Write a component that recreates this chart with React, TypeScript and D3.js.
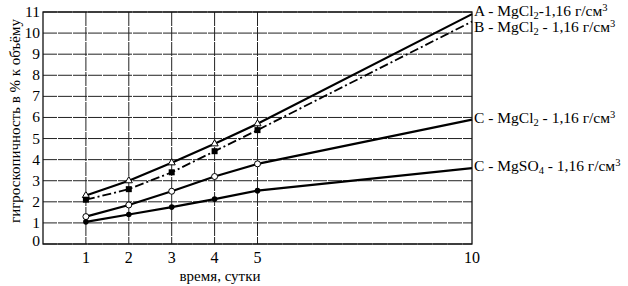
import React from "react";
import * as d3 from "d3";

const days = [1, 2, 3, 4, 5, 10];
const seriesA = [2.3, 3.0, 3.85, 4.75, 5.7, 10.9];
const seriesB = [2.1, 2.6, 3.4, 4.4, 5.4, 10.55];
const seriesC = [1.3, 1.85, 2.5, 3.2, 3.8, 5.9];
const seriesD = [1.05, 1.4, 1.75, 2.13, 2.53, 3.6];
const xTicks = [1, 2, 3, 4, 5, 10];
const yTicks = [0, 1, 2, 3, 4, 5, 6, 7, 8, 9, 10, 11];
const vGrid = [1, 2, 3, 4, 5];

const W = 628;
const H = 286;
const x = d3.scaleLinear().domain([0, 10]).range([43, 472]);
const y = d3.scaleLinear().domain([0, 11]).range([244, 12]);

const FONT = "Liberation Serif, Times New Roman, DejaVu Serif, serif";
const fs = (size: number) => ({ fontFamily: FONT, fontSize: size + "px" });

function line(vals: number[]) {
  return d3
    .line<number>()
    .x((_, i) => x(days[i]))
    .y((v) => y(v))(vals) as string;
}

function Label({ yy, name, chem, sub, sep }: { yy: number; name: string; chem: string; sub: string; sep: string }) {
  return (
    <text x={474} y={yy + 5} style={fs(15.5)} fill="#000">
      {name} - {chem}
      <tspan dy={3} style={fs(10.5)}>{sub}</tspan>
      <tspan dy={-3}>{sep}1,16 г/см</tspan>
      <tspan dy={-5} style={fs(10.5)}>3</tspan>
    </text>
  );
}

export default function App() {
  return (
    <svg width={W} height={H} style={{ position: "absolute", left: 0, top: 0, background: "#fff" }}>
      <rect width={W} height={H} fill="#fff" />
      {yTicks.map((t) => (
        <line key={"h" + t} x1={x(0)} x2={x(10)} y1={y(t)} y2={y(t)} stroke="#222" strokeWidth={1} strokeDasharray="14,1" />
      ))}
      {vGrid.map((t) => (
        <line key={"v" + t} x1={x(t)} x2={x(t)} y1={y(11)} y2={y(0)} stroke="#222" strokeWidth={1} strokeDasharray="14,1" />
      ))}
      <rect x={x(0)} y={y(11)} width={x(10) - x(0)} height={y(0) - y(11)} fill="none" stroke="#111" strokeWidth={1.3} />
      {yTicks.map((t) => (
        <text key={"yl" + t} x={40} y={(t === 0 ? y(t) - 3 : y(t)) + 5} textAnchor="end" style={fs(15.5)}>
          {t}
        </text>
      ))}
      {xTicks.map((t) => (
        <text key={"xl" + t} x={x(t)} y={263} textAnchor="middle" style={fs(16)}>
          {t}
        </text>
      ))}
      <text x={220} y={281} textAnchor="middle" style={fs(15)}>
        время, сутки
      </text>
      <text transform={`translate(20,${121}) rotate(-90)`} textAnchor="middle" style={fs(15)}>
        гигроскопичность в % к объёму
      </text>

      <path d={line(seriesA)} fill="none" stroke="#000" strokeWidth={2.2} />
      <path d={line(seriesB)} fill="none" stroke="#000" strokeWidth={1.8} strokeDasharray="9,3,2,3" />
      <path d={line(seriesC)} fill="none" stroke="#000" strokeWidth={2.2} />
      <path d={line(seriesD)} fill="none" stroke="#000" strokeWidth={2.2} />

      {seriesA.slice(0, 5).map((v, i) => (
        <path key={"ma" + i} d={d3.symbol(d3.symbolTriangle, 22)() as string} transform={`translate(${x(days[i])},${y(v)})`} fill="#fff" stroke="#000" strokeWidth={1} />
      ))}
      {seriesB.slice(0, 5).map((v, i) => (
        <rect key={"mb" + i} x={x(days[i]) - 3} y={y(v) - 3} width={6} height={6} fill="#000" />
      ))}
      {seriesC.slice(0, 5).map((v, i) => (
        <circle key={"mc" + i} cx={x(days[i])} cy={y(v)} r={3} fill="#fff" stroke="#000" strokeWidth={1} />
      ))}
      {seriesD.slice(0, 5).map((v, i) => (
        <circle key={"md" + i} cx={x(days[i])} cy={y(v)} r={2.8} fill="#000" />
      ))}

      <Label yy={y(seriesA[5]) - 3} name="A" chem="MgCl" sub="2" sep="-" />
      <Label yy={y(seriesB[5]) + 6} name="B" chem="MgCl" sub="2" sep=" - " />
      <Label yy={y(seriesC[5]) - 2} name="C" chem="MgCl" sub="2" sep=" - " />
      <Label yy={y(seriesD[5]) - 2} name="C" chem="MgSO" sub="4" sep=" - " />
    </svg>
  );
}
